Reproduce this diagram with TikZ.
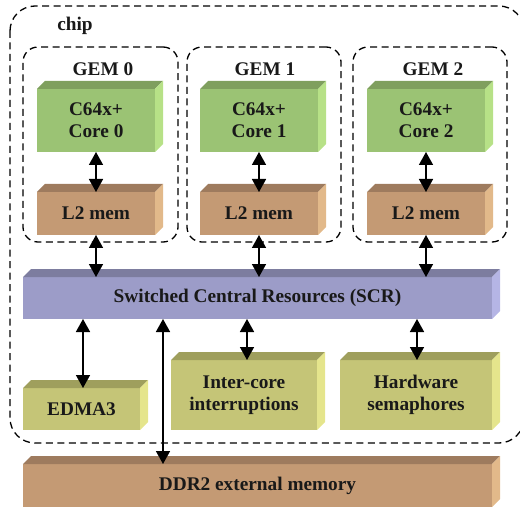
\documentclass[tikz,border=0pt]{standalone}
\usepackage{fontspec}
\setmainfont{Liberation Serif}
\usetikzlibrary{arrows.meta}
\definecolor{gfront}{HTML}{9BC374}\definecolor{gtop}{HTML}{7F9F5E}\definecolor{gside}{HTML}{B7E187}
\definecolor{bfront}{HTML}{C49A74}\definecolor{btop}{HTML}{9E7B5E}\definecolor{bside}{HTML}{E2B98A}
\definecolor{pfront}{HTML}{9C9CC8}\definecolor{ptop}{HTML}{7D7D9F}\definecolor{pside}{HTML}{B5B5E5}
\definecolor{yfront}{HTML}{C5C577}\definecolor{ytop}{HTML}{9F9F5D}\definecolor{yside}{HTML}{E5E58C}
\newcommand\cuboid[7]{%
  \node[cubeface, fill=#6front, minimum width=#4pt, minimum height=#5pt] (#1) at (#2,#3) {#7};
  \fill[#6top] (#1.north west) -- ++(8,-8) -- ([shift={(8pt,8pt)}]#1.north east) -- (#1.north east) -- cycle;
  \fill[#6side] (#1.north east) -- ([shift={(8pt,8pt)}]#1.north east) -- ([shift={(8pt,8pt)}]#1.south east) -- (#1.south east) -- cycle;
}
\begin{document}
\begin{tikzpicture}[x=1pt,y=-1pt,
  every node/.style={font=\fontsize{19.3}{22}\selectfont\bfseries, text=black!90},
  cubeface/.style={inner sep=0pt, outer sep=0pt, draw=none, align=center},
  dashbox/.style={draw=black, line width=1.3pt, dash pattern=on 7pt off 4.5pt, rounded corners=15pt},
  gembox/.style={dashbox, inner sep=0pt, outer sep=0pt},
  arr/.style={line width=1.6pt, {Triangle[width=14pt,length=13pt]}-{Triangle[width=14pt,length=13pt]}}]
\useasboundingbox (0,0) rectangle (520,508);
% chip
\draw[dashbox, rounded corners=25pt] (10,6) rectangle (524,443);
\node (chip) at (75,26) {chip};
% GEM boxes
\node[gembox, minimum width=155pt, minimum height=195pt] (gem0) at (100.5,144.5) {};
\node[gembox, minimum width=154pt, minimum height=195pt] (gem1) at (264,144.5) {};
\node[gembox, minimum width=154pt, minimum height=195pt] (gem2) at (430,144.5) {};
\node (g0l) at (103,69) {GEM 0};
\node (g1l) at (265,69) {GEM 1};
\node (g2l) at (433,69) {GEM 2};
% cores
\cuboid{core0}{96}{120.5}{118}{63}{g}{C64x+\\Core 0}
\cuboid{core1}{259}{120.5}{118}{63}{g}{C64x+\\Core 1}
\cuboid{core2}{426}{120.5}{118}{63}{g}{C64x+\\Core 2}
\cuboid{l2a}{96}{213.5}{118}{43}{b}{L2 mem}
\cuboid{l2b}{259}{213.5}{118}{43}{b}{L2 mem}
\cuboid{l2c}{426}{213.5}{118}{43}{b}{L2 mem}
% SCR
\cuboid{scr}{257.5}{298}{469}{42}{p}{Switched Central Resources (SCR)}
% peripherals
\cuboid{edma}{81.5}{409}{117}{42}{y}{EDMA3}
\cuboid{intc}{244}{395}{146}{70}{y}{Inter-core\\interruptions}
\cuboid{hws}{416}{395}{152}{70}{y}{Hardware\\semaphores}
\cuboid{ddr}{257.5}{485.5}{469}{43}{b}{DDR2 external memory}
% arrows
\draw[arr] (core0.south) -- (l2a.north);
\draw[arr] (core1.south) -- (l2b.north);
\draw[arr] (core2.south) -- (l2c.north);
\draw[arr] (l2a.south) -- (l2a.south |- scr.north);
\draw[arr] (l2b.south) -- (l2b.south |- scr.north);
\draw[arr] (l2c.south) -- (l2c.south |- scr.north);
\coordinate (ex) at (83,0);
\coordinate (ix) at (247,0);
\coordinate (hx) at (417,0);
\coordinate (dx) at (163,0);
\draw[arr] (scr.south -| ex) -- (edma.north -| ex);
\draw[arr] (scr.south -| ix) -- (intc.north -| ix);
\draw[arr] (scr.south -| hx) -- (hws.north -| hx);
\draw[arr] (scr.south -| dx) -- (ddr.north -| dx);
\end{tikzpicture}
\end{document}
